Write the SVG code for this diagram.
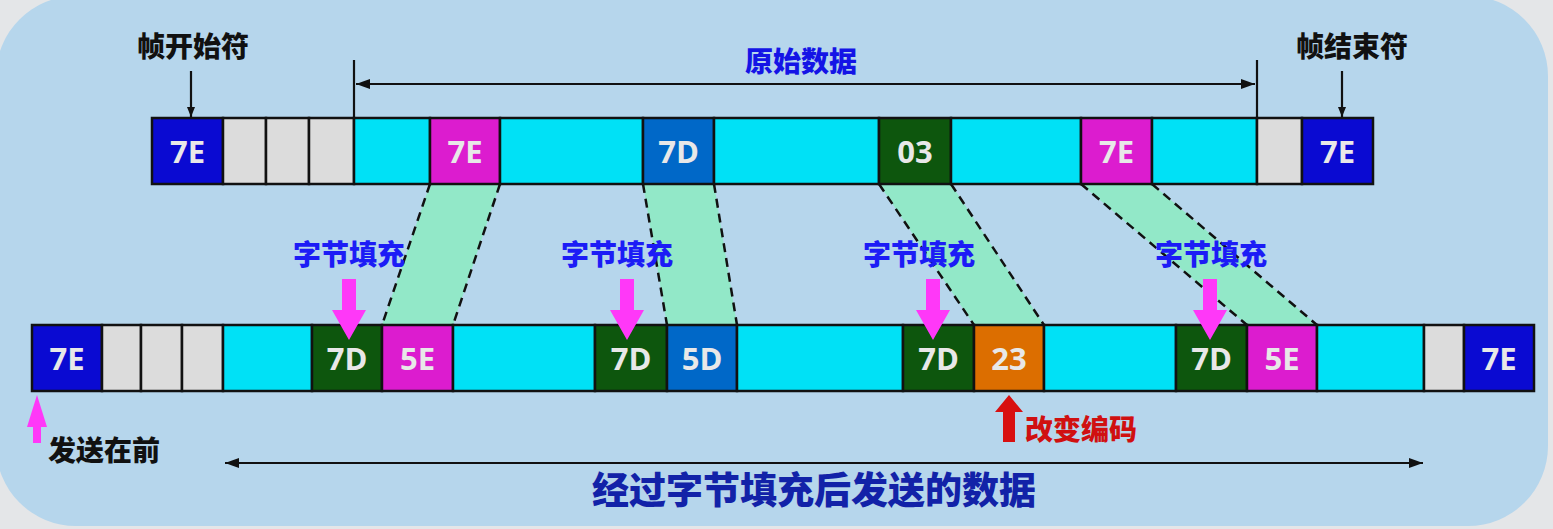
<svg xmlns="http://www.w3.org/2000/svg" width="1553" height="529" viewBox="0 0 1553 529">
<defs>
<style>
.c{stroke:#111;stroke-width:2.5}
.fb{fill:#0a0ad2}.fg{fill:#dcdcdc}.fc{fill:#00e1f6}.fm{fill:#dc1ccf}.fd{fill:#0068c8}.fk{fill:#0d560d}.fo{fill:#dc6e00}
.h{font-family:"Open Sans","Noto Sans","Liberation Sans",sans-serif;font-weight:700;font-size:31px;fill:#e8e8e8;text-anchor:middle}
.cj{font-family:"Noto Sans CJK SC","Noto Sans",sans-serif;font-weight:900;font-size:28px}
.big{font-size:37px}
.blk{fill:#111}
.blu{fill:#1c1cf6}
.ln{stroke:#111;stroke-width:2.2;fill:none}
.dash{stroke:#111;stroke-width:2.5;stroke-dasharray:9 6;fill:none}
.trap{fill:#92e8c8}
.pk{fill:#ff38f8}
</style>
<marker id="ah" viewBox="0 0 14 10" refX="14" refY="5" markerWidth="14" markerHeight="10" markerUnits="userSpaceOnUse" orient="auto-start-reverse">
<path d="M0,0 L14,5 L0,10 z" fill="#111"/>
</marker>
<marker id="ahs" viewBox="0 0 10 8" refX="10" refY="4" markerWidth="10" markerHeight="8" markerUnits="userSpaceOnUse" orient="auto">
<path d="M0,0 L10,4 L0,8 z" fill="#111"/>
</marker>
</defs>

<rect x="0" y="0" width="1553" height="529" fill="#e4e6e8"/>
<rect x="-4" y="-4" width="1552" height="530" rx="80" ry="80" fill="#b6d6ec"/>

<g id="connectors">
<polygon class="trap" points="430,184 500,184 453,325 382,325"/>
<polygon class="trap" points="643,184 714,184 737,325 667,325"/>
<polygon class="trap" points="879,184 951,184 1044,325 974,325"/>
<polygon class="trap" points="1081,184 1152,184 1317,325 1247,325"/>
<line class="dash" x1="430" y1="184" x2="382" y2="325"/>
<line class="dash" x1="500" y1="184" x2="453" y2="325"/>
<line class="dash" x1="643" y1="184" x2="667" y2="325"/>
<line class="dash" x1="714" y1="184" x2="737" y2="325"/>
<line class="dash" x1="879" y1="184" x2="974" y2="325"/>
<line class="dash" x1="951" y1="184" x2="1044" y2="325"/>
<line class="dash" x1="1081" y1="184" x2="1247" y2="325"/>
<line class="dash" x1="1152" y1="184" x2="1317" y2="325"/>
<line class="ln" x1="354" y1="60" x2="354" y2="118"/>
<line class="ln" x1="1257" y1="60" x2="1257" y2="118"/>
<line class="ln" x1="356" y1="84" x2="1255" y2="84" marker-start="url(#ah)" marker-end="url(#ah)"/>
<line class="ln" x1="191" y1="71" x2="191" y2="117" marker-end="url(#ahs)"/>
<line class="ln" x1="1342" y1="71" x2="1342" y2="117" marker-end="url(#ahs)"/>
<line class="ln" x1="225" y1="463" x2="1423" y2="463" marker-start="url(#ah)" marker-end="url(#ah)"/>
</g>

<g id="top-row">
<g id="t-start"><rect class="c fb" x="152" y="118" width="71" height="66"/><text class="h" x="187.5" y="163">7E</text></g>
<g id="t-g1"><rect class="c fg" x="223" y="118" width="43" height="66"/></g>
<g id="t-g2"><rect class="c fg" x="266" y="118" width="43" height="66"/></g>
<g id="t-g3"><rect class="c fg" x="309" y="118" width="45" height="66"/></g>
<g id="t-c1"><rect class="c fc" x="354" y="118" width="76" height="66"/></g>
<g id="t-7e1"><rect class="c fm" x="430" y="118" width="70" height="66"/><text class="h" x="465" y="163">7E</text></g>
<g id="t-c2"><rect class="c fc" x="500" y="118" width="143" height="66"/></g>
<g id="t-7d"><rect class="c fd" x="643" y="118" width="71" height="66"/><text class="h" x="678.5" y="163">7D</text></g>
<g id="t-c3"><rect class="c fc" x="714" y="118" width="165" height="66"/></g>
<g id="t-03"><rect class="c fk" x="879" y="118" width="72" height="66"/><text class="h" x="915" y="163">03</text></g>
<g id="t-c4"><rect class="c fc" x="951" y="118" width="130" height="66"/></g>
<g id="t-7e2"><rect class="c fm" x="1081" y="118" width="71" height="66"/><text class="h" x="1116.5" y="163">7E</text></g>
<g id="t-c5"><rect class="c fc" x="1152" y="118" width="105" height="66"/></g>
<g id="t-g4"><rect class="c fg" x="1257" y="118" width="45" height="66"/></g>
<g id="t-end"><rect class="c fb" x="1302" y="118" width="71" height="66"/><text class="h" x="1337.5" y="163">7E</text></g>
</g>

<g id="bottom-row">
<g id="b-start"><rect class="c fb" x="32" y="325" width="70" height="66"/><text class="h" x="67" y="370">7E</text></g>
<g id="b-g1"><rect class="c fg" x="102" y="325" width="39" height="66"/></g>
<g id="b-g2"><rect class="c fg" x="141" y="325" width="41" height="66"/></g>
<g id="b-g3"><rect class="c fg" x="182" y="325" width="41" height="66"/></g>
<g id="b-c1"><rect class="c fc" x="223" y="325" width="89" height="66"/></g>
<g id="b-7d1"><rect class="c fk" x="312" y="325" width="70" height="66"/><text class="h" x="347" y="370">7D</text></g>
<g id="b-5e1"><rect class="c fm" x="382" y="325" width="71" height="66"/><text class="h" x="417.5" y="370">5E</text></g>
<g id="b-c2"><rect class="c fc" x="453" y="325" width="142" height="66"/></g>
<g id="b-7d2"><rect class="c fk" x="595" y="325" width="72" height="66"/><text class="h" x="631" y="370">7D</text></g>
<g id="b-5d"><rect class="c fd" x="667" y="325" width="70" height="66"/><text class="h" x="702" y="370">5D</text></g>
<g id="b-c3"><rect class="c fc" x="737" y="325" width="166" height="66"/></g>
<g id="b-7d3"><rect class="c fk" x="903" y="325" width="71" height="66"/><text class="h" x="938.5" y="370">7D</text></g>
<g id="b-23"><rect class="c fo" x="974" y="325" width="70" height="66"/><text class="h" x="1009" y="370">23</text></g>
<g id="b-c4"><rect class="c fc" x="1044" y="325" width="132" height="66"/></g>
<g id="b-7d4"><rect class="c fk" x="1176" y="325" width="71" height="66"/><text class="h" x="1211.5" y="370">7D</text></g>
<g id="b-5e2"><rect class="c fm" x="1247" y="325" width="70" height="66"/><text class="h" x="1282" y="370">5E</text></g>
<g id="b-c5"><rect class="c fc" x="1317" y="325" width="107" height="66"/></g>
<g id="b-g4"><rect class="c fg" x="1424" y="325" width="40" height="66"/></g>
<g id="b-end"><rect class="c fb" x="1464" y="325" width="70" height="66"/><text class="h" x="1499" y="370">7E</text></g>
</g>

<g id="stuff-labels">
<text class="cj blu" x="349" y="265" text-anchor="middle">字节填充</text>
<text class="cj blu" x="617" y="265" text-anchor="middle">字节填充</text>
<text class="cj blu" x="919" y="265" text-anchor="middle">字节填充</text>
<text class="cj blu" x="1211" y="265" text-anchor="middle">字节填充</text>
<path class="pk" d="M342,279 H356 V310 H366 L349,340 L332,310 H342 Z"/>
<path class="pk" d="M620,279 H634 V310 H644 L627,340 L610,310 H620 Z"/>
<path class="pk" d="M926,279 H940 V310 H950 L933,340 L916,310 H926 Z"/>
<path class="pk" d="M1203,279 H1217 V310 H1227 L1210,340 L1193,310 H1203 Z"/>
</g>

<g id="labels">
<text class="cj blk" x="193" y="57" text-anchor="middle">帧开始符</text>
<text class="cj blk" x="1352" y="57" text-anchor="middle">帧结束符</text>
<text class="cj" x="801" y="72" text-anchor="middle" fill="#1414e6">原始数据</text>
<path class="pk" d="M37,395 L47,427 H41 V443 H33 V427 H27 Z"/>
<text class="cj blk" x="48" y="461">发送在前</text>
<path d="M1009,395 L1023,412 H1015 V442 H1003 V412 H995 Z" fill="#d81010"/>
<text class="cj" x="1025" y="440" fill="#d01010">改变编码</text>
<text class="cj big" x="814" y="504" text-anchor="middle" fill="#1222a8">经过字节填充后发送的数据</text>
</g>
</svg>
